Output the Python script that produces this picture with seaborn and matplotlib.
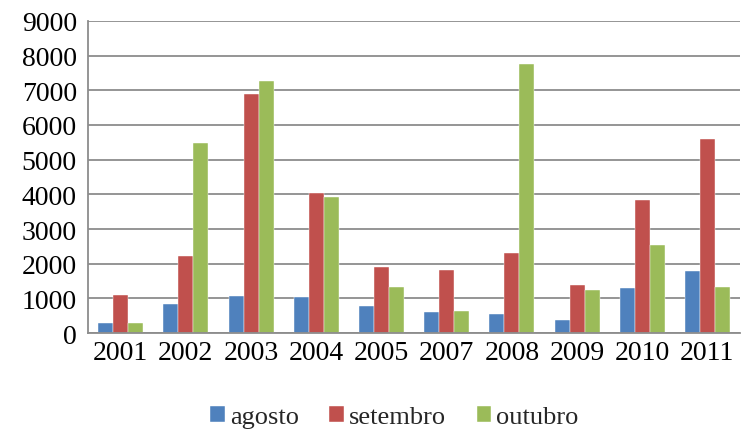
import matplotlib
matplotlib.use("Agg")
import matplotlib.pyplot as plt
import seaborn as sns
import pandas as pd
import numpy as np

years = ["2001", "2002", "2003", "2004", "2005", "2007", "2008", "2009", "2010", "2011"]
agosto = [280, 830, 1070, 1030, 770, 610, 550, 370, 1310, 1790]
setembro = [1090, 2230, 6880, 4040, 1910, 1810, 2320, 1390, 3840, 5610]
outubro = [290, 5470, 7260, 3920, 1320, 640, 7760, 1250, 2530, 1320]
months = ["agosto", "setembro", "outubro"]
colors = ["#4F81BD", "#C0504D", "#9BBB59"]

df = pd.DataFrame({
    "ano": years * 3,
    "mes": [m for m in months for _ in years],
    "valor": agosto + setembro + outubro,
})

sns.set_style("white")
plt.rcParams["font.family"] = ["Liberation Serif", "DejaVu Serif"]

fig = plt.figure(figsize=(7.46, 4.31), dpi=100)
ax = fig.add_axes([0.118, 0.225, 0.874, 0.724])

sns.barplot(data=df, x="ano", y="valor", hue="mes", hue_order=months,
            palette=colors, width=0.69, edgecolor="white", linewidth=0.3,
            saturation=1, ax=ax)

ax.set_ylim(0, 9000)
ax.set_xlim(-0.5, len(years) - 0.5)
ax.set_yticks(np.arange(0, 9001, 1000))
ax.set_xlabel("")
ax.set_ylabel("")
ax.yaxis.grid(True, color="#8C8C8C", linewidth=1.3)
ax.set_axisbelow(True)

for s in ["top", "right"]:
    ax.spines[s].set_visible(False)
for s in ["left", "bottom"]:
    ax.spines[s].set_color("#8C8C8C")
    ax.spines[s].set_linewidth(1.3)

ax.tick_params(axis="both", labelsize=20, colors="black")
ax.tick_params(axis="y", length=5, width=1.3, color="#8C8C8C", pad=3)
ax.tick_params(axis="x", which="major", length=0, pad=5)
ax.set_xticks(np.arange(-0.5, len(years), 1), minor=True)
ax.tick_params(axis="x", which="minor", length=7, width=1.3, color="#8C8C8C")

ax.legend(loc="center", bbox_to_anchor=(0.47, -0.27), ncol=3,
          frameon=False, fontsize=19, handlelength=0.55, handleheight=0.55,
          handletextpad=0.2, columnspacing=1.15)

fig.savefig("out.png", dpi=100)
